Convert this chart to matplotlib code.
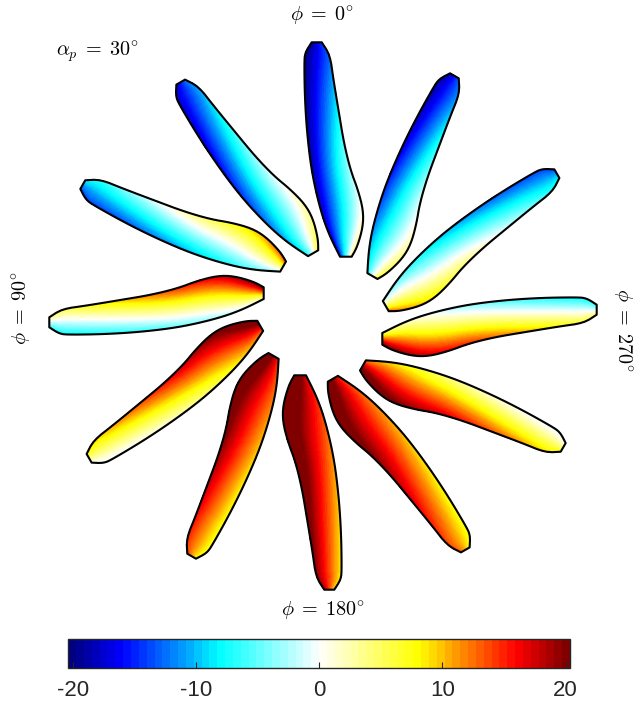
import numpy as np
import matplotlib
matplotlib.use('Agg')
import matplotlib.pyplot as plt
from matplotlib.colors import LinearSegmentedColormap, ListedColormap, Normalize
from matplotlib.patches import Polygon
from matplotlib.cm import ScalarMappable

plt.rcParams['mathtext.fontset'] = 'cm'
plt.rcParams['axes.unicode_minus'] = False

# blade azimuths (deg) and field values at the four blade corners
phi = [0, 30, 60, 90, 120, 150, 180, 210, 240, 270, 300, 330]
left_root = [-17, -9, -3, 0, 12, 14, 16, 14, 11, 4, -3, -8]
left_tip = [-20, -18, -14, -8, -1, 7, 8, 7, -1, -8, -14, -19]
right_root = [5, 7, 14, 21, 24, 25, 26, 25, 24, 21, 13, 7]
right_tip = [-14, -12, -8, 4, 8, 14, 19, 13, 8, 5, -8, -13]

# blade planform: radius and chordwise offset of each edge
left_r = [59.3, 79.3, 99.3, 126, 152.7, 186, 219.3, 252.7, 263.3, 273.7]
left_u = [17, 7, -0.5, -7.5, -12.5, -16.2, -18.2, -18.7, -18, -11.3]
right_r = [59.3, 69.3, 89.3, 106, 126, 146, 172.7, 202.7, 236, 261, 273.7]
right_u = [28.7, 34.3, 40, 40.2, 35, 27.5, 21, 16, 10.5, 7, -1.3]

cbar_ticks = [-20, -10, 0, 10, 20]
clim = 20.35

# blue - cyan - white - yellow - red map, 64 steps
anchors = [(0.0, (0, 0, 0.5)), (0.1, (0, 0, 1)), (0.3, (0, 1, 1)),
           (0.5, (1, 1, 1)), (0.7, (1, 1, 0)), (0.9, (1, 0, 0)),
           (1.0, (0.5, 0, 0))]
base = LinearSegmentedColormap.from_list('bwr_jet', anchors)
cmap = ListedColormap(base(np.linspace(0, 1, 64)))
norm = Normalize(vmin=-clim, vmax=clim)


def chaikin(pts, n=2):
    # corner cutting, ends kept fixed
    pts = np.asarray(pts, float)
    for _ in range(n):
        q = 0.75 * pts[:-1] + 0.25 * pts[1:]
        r = 0.25 * pts[:-1] + 0.75 * pts[1:]
        mid = np.empty((2 * len(q), 2))
        mid[0::2] = q
        mid[1::2] = r
        pts = np.vstack([pts[:1], mid[1:-1], pts[-1:]])
    return pts


fig = plt.figure(figsize=(6.34, 7.09), dpi=100)
ax = fig.add_axes([0, 0, 1, 1])
ax.set_xlim(-323, 311)
ax.set_ylim(-393, 316)
ax.axis('off')

left_edge = chaikin(np.column_stack([left_r, left_u]))
right_edge = chaikin(np.column_stack([right_r, right_u]))
outline = np.vstack([left_edge, right_edge[::-1]])
outline_r, outline_u = outline[:, 0], outline[:, 1]

rg, ug = np.meshgrid(np.linspace(55, 280, 160), np.linspace(-25, 45, 100))
uL = np.interp(rg, left_edge[:, 0], left_edge[:, 1])
uR = np.interp(rg, right_edge[:, 0], right_edge[:, 1])
c = np.clip((ug - uL) / (uR - uL), 0, 1)
s = np.clip((rg - 59.3) / (273.7 - 59.3), 0, 1)

for k, p in enumerate(phi):
    a = np.radians(p)
    Ls = left_tip[k] + (left_root[k] - left_tip[k]) * (1 - s) ** 2
    Rs = right_tip[k] + (right_root[k] - right_tip[k]) * (1 - s)
    val = Ls + (Rs - Ls) * c
    X = -rg * np.sin(a) + ug * np.cos(a)
    Y = rg * np.cos(a) + ug * np.sin(a)
    ox = -outline_r * np.sin(a) + outline_u * np.cos(a)
    oy = outline_r * np.cos(a) + outline_u * np.sin(a)
    patch = Polygon(np.column_stack([ox, oy]), closed=True, facecolor='none',
                    edgecolor='black', linewidth=1.5, joinstyle='round', zorder=3)
    ax.add_patch(patch)
    mesh = ax.pcolormesh(X, Y, val, cmap=cmap, norm=norm, shading='gouraud', zorder=2)
    mesh.set_clip_path(patch)

lbl = dict(ha='center', va='center', fontsize=14.5)
ax.text(-1, 300, r'$\phi\;=\;0^{\circ}$', **lbl)
ax.text(0, -295, r'$\phi\;=\;180^{\circ}$', **lbl)
ax.text(-301, 8, r'$\phi\;=\;90^{\circ}$', rotation=90, **lbl)
ax.text(299, -14, r'$\phi\;=\;270^{\circ}$', rotation=-90, **lbl)
ax.text(-225, 264, r'$\alpha_p\;=\;30^{\circ}$', **lbl)

cax = fig.add_axes([68.3 / 634, (709 - 668) / 709, (570 - 68.3) / 634, 29 / 709])
sm = ScalarMappable(norm=norm, cmap=cmap)
cb = fig.colorbar(sm, cax=cax, orientation='horizontal')
cb.set_ticks(cbar_ticks)
cb.ax.tick_params(direction='in', length=4, width=0.8, color='#262626',
                  labelsize=16, labelcolor='#262626', pad=9)
for lab in cb.ax.get_xticklabels():
    lab.set_fontfamily('Liberation Sans')
cb.outline.set_edgecolor('#262626')
cb.outline.set_linewidth(1.0)

fig.savefig('out.png', dpi=100)
